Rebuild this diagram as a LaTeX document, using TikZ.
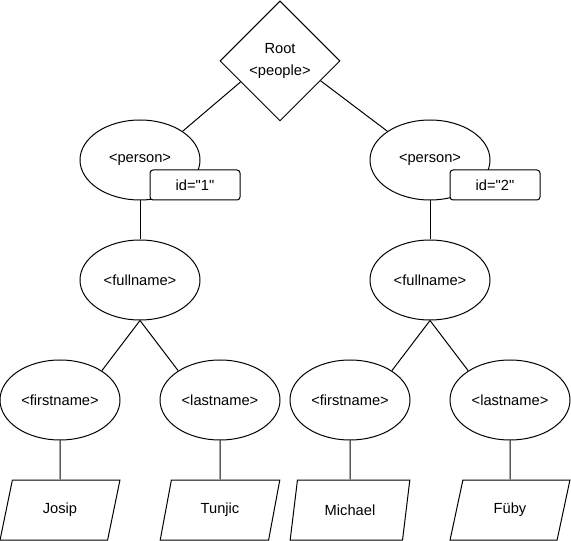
\documentclass[tikz,border=0pt]{standalone}
\usepackage{fontspec}
\setmainfont{Liberation Sans}
\usetikzlibrary{positioning}
\usetikzlibrary{shapes.geometric}

\begin{document}
\begin{tikzpicture}[x=0.75pt,y=-0.75pt,auto,node distance=90pt,on grid,
                    line width=0.75pt,font=\fontsize{11}{15}\selectfont,
                    root node/.style={diamond,draw,aspect=1,minimum size=90pt,inner sep=0pt,align=center},
                    elem node/.style={ellipse,draw,minimum width=90pt,minimum height=60pt,inner sep=0pt},
                    attr node/.style={rectangle,draw,fill=white,rounded corners=2.25pt,minimum width=67.5pt,minimum height=22.5pt,inner sep=0pt},
                    value node/.style={trapezium,draw,trapezium left angle=72,trapezium right angle=108,
                                       trapezium stretches=true,minimum width=90pt,minimum height=45pt,inner sep=0pt}]
      \useasboundingbox (0,0) rectangle (571,541);

      \node[root node] (1) at (280,61) {Root\\[1pt]<people>};

      \node[elem node] (2) at (140,160) {<person>};
      \node[attr node] (3) at (195,185) {id=\textquotedbl 1\textquotedbl};
      \node[elem node] (4) [below=of 2] {<fullname>};
      \node[elem node] (5) [below left=90pt and 60pt of 4] {<firstname>};
      \node[elem node] (6) [below right=90pt and 60pt of 4] {<lastname>};
      \node[value node] (7) [below=82.5pt of 5] {Josip};
      \node[value node] (8) [below=82.5pt of 6] {Tunjic};

      \node[elem node] (9) at (430,160) {<person>};
      \node[attr node] (10) at (495,185) {id=\textquotedbl 2\textquotedbl};
      \node[elem node] (11) [below=of 9] {<fullname>};
      \node[elem node] (12) [below left=90pt and 60pt of 11] {<firstname>};
      \node[elem node] (13) [below right=90pt and 60pt of 11] {<lastname>};
      \node[value node] (14) [below=82.5pt of 12] {Michael};
      \node[value node] (15) [below=82.5pt of 13] {Füby};

      \path
	(1.208) edge (2.34)
	(1.334) edge (9.146)
	(2) edge (4)
	(4.south) edge (5.35)
	          edge (6.145)
	(5) edge (7)
	(6) edge (8)
	(9) edge (11)
	(11.south) edge (12.35)
	           edge (13.145)
	(12) edge (14)
	(13) edge (15);

\end{tikzpicture}
\end{document}
